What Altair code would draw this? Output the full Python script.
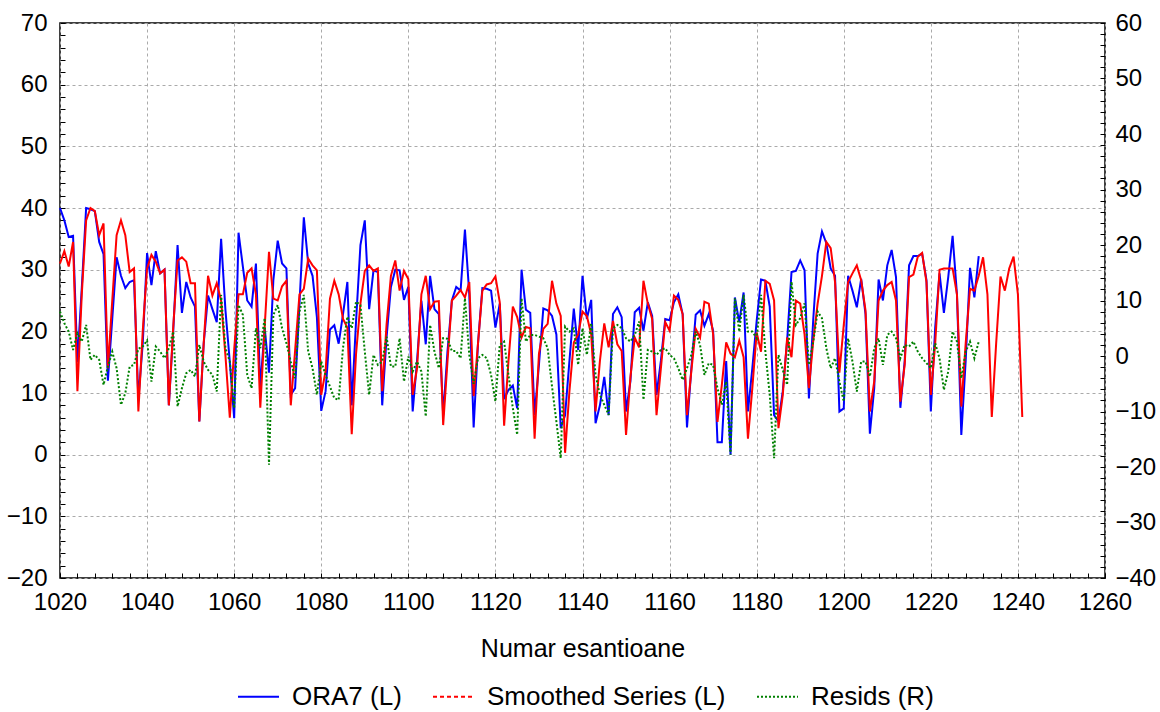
import altair as alt
import pandas as pd

# ORA7 (L) observed series, samples 1020..1231
ora7 = [
    40, 38, 35.3, 35.5, 15, 27, 40, 39.8, 39.5, 34.5,
    32.5, 12, 22, 32, 29, 27, 28, 28.3, 9, 18,
    32.7, 27.5, 33, 29.4, 30, 8, 20, 34, 23, 28,
    25.5, 24, 5.4, 18, 25.8, 23.6, 21.5, 35, 23.4, 15,
    5.9, 36, 30.5, 25, 24, 31, 10.8, 20.6, 13.3, 28.3,
    34.7, 31, 30.2, 9.7, 10.8, 24.5, 38.5, 31, 29, 22.3,
    7.1, 10.3, 20.3, 21, 18, 22.8, 28, 8, 21.7, 34,
    38, 23.6, 29.9, 29.6, 8, 19, 27.2, 30, 29.9, 25.1,
    27.2, 7, 15.2, 25, 17.9, 29, 23.6, 22.8, 6.4, 16.8,
    25, 27.2, 26.6, 36.5, 26, 4.4, 18, 27, 26.9, 26.6,
    20.6, 24.5, 9, 10.5, 11.2, 7.5, 30, 23.5, 23, 6.4,
    14.6, 23.7, 23.4, 22.5, 19.5, 4.3, 6.4, 15.2, 23.7, 17,
    29, 22, 25.1, 5.1, 8, 12.6, 6.4, 22.8, 23.9, 22.3,
    7, 11.9, 23.1, 23.8, 20.1, 24.7, 22.5, 9.7, 15.2, 22,
    21.8, 24.7, 26, 22.8, 4.4, 14, 22.7, 23.4, 20.9, 22.8,
    20.1, 2, 2, 15.2, 0, 25.5, 21.5, 26.3, 7, 14,
    21.7, 28.4, 28.2, 24, 6.4, 5.4, 10.3, 18.5, 29.6, 29.8,
    31.5, 29.9, 9.1, 22, 32.6, 36.2, 34.3, 30.2, 29, 7,
    7.5, 29, 26.6, 23.9, 28.5, 22.8, 3.4, 10.8, 28.4, 25,
    30.7, 33.2, 28.8, 7.6, 15.2, 30.7, 32.2, 32.2, 32.6, 28.3,
    7, 20.6, 29.4, 23, 28.8, 35.5, 26, 3.2, 15.2, 30.3,
    25.5, 32.2,
]

# Smoothed Series (L), samples 1020..1241
smoothed = [
    31, 33, 30.5, 34.5, 10.3, 26, 38, 40, 39.5, 35.6,
    37.5, 14, 25, 35.6, 38, 35.6, 29.6, 30.2, 7, 20,
    30.2, 32.4, 31.3, 29.4, 30, 8, 20.6, 31.5, 32, 31.3,
    27.8, 27.8, 5.4, 18, 29, 25.8, 27.8, 25, 16, 6,
    17, 26, 26, 29.5, 30.2, 26, 7.6, 20.6, 32.9, 25.3,
    25, 27.3, 28.2, 8, 16.9, 26, 26.9, 31.8, 30.7, 29.9,
    9.7, 13.6, 25.3, 28.2, 26, 22, 20.6, 3.3, 16.4, 24.5,
    29.8, 30.7, 29.8, 30.2, 10.3, 21.1, 29, 31.5, 26.6, 29.8,
    28.5, 9.7, 14, 26, 29, 23.6, 24.8, 24.9, 4.8, 15.2,
    25, 25.8, 26.7, 25.5, 28, 9.5, 18, 26.6, 27.6, 27.8,
    28.9, 24.7, 4.7, 15.2, 24, 22.3, 19, 20.7, 20.5, 2.6,
    16.4, 20.4, 21.2, 28.2, 24.5, 22.5, 0.3, 10.3, 18.2, 19.5,
    23.2, 22.5, 19.5, 7, 15.2, 21.3, 17.4, 21.7, 17.9, 16.8,
    3.2, 12.5, 19, 17.4, 28.2, 24.5, 22, 6.4, 14, 21.5,
    20.1, 25.8, 25.1, 22.8, 6.4, 13.6, 20.4, 19, 24.8, 24.5,
    19.5, 5.3, 11.3, 18.2, 16.4, 15.8, 18.5, 15.8, 2.6, 10.8,
    19.8, 16.7, 28.2, 27.7, 25, 4.3, 9.7, 19, 15.8, 25,
    24.5, 19.5, 10.8, 18.5, 24.5, 29, 34.5, 33.5, 28, 13.3,
    21, 28, 29.4, 30.7, 28.3, 23.4, 7, 11.9, 25, 26.6,
    27.5, 28, 25, 8.6, 14.6, 28.8, 29.2, 32.1, 32.7, 28,
    9.7, 18, 30, 30.2, 30.2, 30.2, 26, 7.8, 18, 26.9,
    26.6, 29, 32, 26, 6.1, 18, 28.9, 26.6, 30.2, 32.1,
    26, 6.1,
]

# Resids (R), samples 1020..1231
resids = [
    8, 5.9, 4.4, 1.1, 4.1, 2.6, 5.6, -0.7, 0.2, -0.7,
    -5.2, -1.9, 0.8, -2.2, -8.8, -6.7, -1.9, -1.6, 1.3, 1.7,
    2.8, -4.6, 1.7, 0.8, -0.4, 1.4, 4.4, -9.1, -5.8, -3.1,
    -2.5, -3.7, 2, -1, -2.5, -3.4, -6.4, 11, 1.4, -1,
    -9.4, 9.2, 7.4, -3.4, -5.8, 5, 1.4, 6.8, -19.6, 7.4,
    9.2, 5, 2.3, -1, -4, 8, 11, 0.8, -2.2, -7,
    -1, -3.4, -5.5, -7.6, -7.9, 1.5, 7.1, 5, 9.8, 9.2,
    0.8, -7, 0.2, -1.6, -1, 3.5, -1.9, -1.9, 3.2, -4.6,
    -0.1, -2.8, -1, -2.8, -10.9, 5.6, 0.8, -2.2, 3.2, 3.1,
    0.9, 0.9, -0.4, 10.4, 0.2, -5, -0.4, 0.2, -0.4, -3.4,
    -8.2, 2, 2.6, -3.4, -9.4, -14.2, 10.4, 2.6, 3.8, 3.8,
    3.5, 3.2, 1.4, -5.5, -11.8, -18.4, 5.3, 4.4, 5, -1.6,
    5, 0.2, 5.9, -3.4, -7, -8.8, -10.6, 5, 5.6, 5,
    3.2, 2.6, 3.8, 6.2, -7.9, 1.1, 0.8, 0.2, 1.1, 1.4,
    0.2, -0.4, -2.2, -4.3, -2.2, 0.2, 4.4, 2, -3.4, -1.3,
    -1.6, -5.8, -8.8, -4.6, -17.8, 10.4, 4.4, 11, 4.4, 4.4,
    3.2, 11, 0.8, -7, -18.4, 0.2, -2.5, -5.2, 13.4, 5.6,
    6.8, 9.5, -1.6, 2.6, 8, 6.8, 1.4, -2.2, -0.4, -4.6,
    -8.2, 3.2, -1, -6.4, -1, -1, -3.7, 1.4, 3.2, -1.6,
    3.8, 4.4, 3.2, -0.4, 2, 1.7, 2.6, 0.8, -0.4, -1.3,
    -2.2, 2.3, -0.4, -6.1, -2.8, 4.4, 2.6, -4, 0.8, 2.6,
    -0.4, 2.6,
]

series_names = ["ORA7 (L)", "Smoothed Series (L)", "Resids (R)"]
series_colors = ["#0000ff", "#ff0000", "#008000"]
legend_dashes = [[1, 0], [4, 3], [2, 2]]
start = 1020

x_ticks = list(range(1020, 1261, 4))
yl_ticks = list(range(-20, 71, 2))
yr_ticks = list(range(-40, 61, 2))

left_df = pd.concat([
    pd.DataFrame({"x": list(range(start, start + len(ora7))), "value": ora7, "series": series_names[0]}),
    pd.DataFrame({"x": list(range(start, start + len(smoothed))), "value": smoothed, "series": series_names[1]}),
])
right_df = pd.DataFrame({"x": list(range(start, start + len(resids))), "value": resids, "series": series_names[2]})

FONT = "Liberation Sans"
major10 = "datum.value % 10 === 0"
GRID = "#aaaaaa"

x_enc = alt.X(
    "x:Q",
    scale=alt.Scale(domain=[1020, 1260], nice=False, zero=False),
    axis=alt.Axis(
        title="Numar esantioane", values=x_ticks, format="d",
        labelExpr="datum.value % 20 === 0 ? datum.label : ''",
        labelFlush=False, labelOverlap=False, domain=False, offset=-5,
        tickSize=5, tickColor="black", tickWidth=1, labelPadding=12,
        labelFontSize=24, labelColor="black", titleFontSize=25,
        titleFontWeight="normal", titleColor="black", titlePadding=22,
        gridColor=GRID, gridDash=[3, 3], gridWidth=1,
        gridOpacity={"condition": {"test": "datum.value % 20 === 0", "value": 1}, "value": 0},
    ),
)

legend = alt.Legend(
    title="", orient="none", legendX=177, legendY=652, direction="horizontal",
    columns=3, columnPadding=27, symbolType="stroke", symbolSize=1681,
    symbolStrokeWidth=2, labelFontSize=26, labelColor="black", labelOffset=12,
    labelLimit=400,
)

color_enc = alt.Color(
    "series:N",
    scale=alt.Scale(domain=series_names, range=series_colors),
    legend=legend,
)

yl_enc = alt.Y(
    "value:Q",
    scale=alt.Scale(domain=[-20, 70], nice=False, zero=False),
    axis=alt.Axis(
        title="", orient="left", values=yl_ticks,
        labelExpr="datum.value % 10 === 0 ? datum.label : ''",
        labelFlush=False, labelOverlap=False, domain=False, offset=-5,
        tickSize=5, tickColor="black", labelPadding=13, labelFontSize=24,
        labelColor="black", gridColor=GRID, gridDash=[3, 3], gridWidth=1,
        gridOpacity={"condition": {"test": major10, "value": 1}, "value": 0},
    ),
)

left = alt.Chart(left_df).mark_line(strokeWidth=2).encode(
    x=x_enc, y=yl_enc, color=color_enc,
)

# legend-only layer (no rows survive the filter): gives the legend its dash styles
legend_layer = alt.Chart(left_df).transform_filter("false").mark_line(strokeWidth=2).encode(
    x=x_enc, y=yl_enc, color=color_enc,
    strokeDash=alt.StrokeDash(
        "series:N",
        scale=alt.Scale(domain=series_names, range=legend_dashes),
        legend=legend,
    ),
)

right = alt.Chart(right_df).mark_line(strokeWidth=2, strokeDash=[2, 2]).encode(
    x=x_enc,
    y=alt.Y(
        "value:Q",
        scale=alt.Scale(domain=[-40, 60], nice=False, zero=False),
        axis=alt.Axis(
            title="", orient="right", values=yr_ticks,
            labelExpr="datum.value % 10 === 0 ? datum.label : ''",
            labelFlush=False, labelOverlap=False, domain=False, offset=-5,
            tickSize=5, tickColor="black", labelPadding=10, labelFontSize=24,
            labelColor="black", grid=False,
        ),
    ),
    color=color_enc,
)

chart = (
    alt.layer(alt.layer(left, legend_layer), right)
    .resolve_scale(y="independent")
    .properties(
        width=1045, height=555,
        autosize=alt.AutoSizeParams(type="none"),
        padding={"left": 60, "top": 23, "right": 55, "bottom": 134},
        background="white",
    )
    .configure(font=FONT)
    .configure_view(stroke="black", strokeWidth=1.5)
)

chart.save("out.html", embed_options={"renderer": "svg", "actions": False})
